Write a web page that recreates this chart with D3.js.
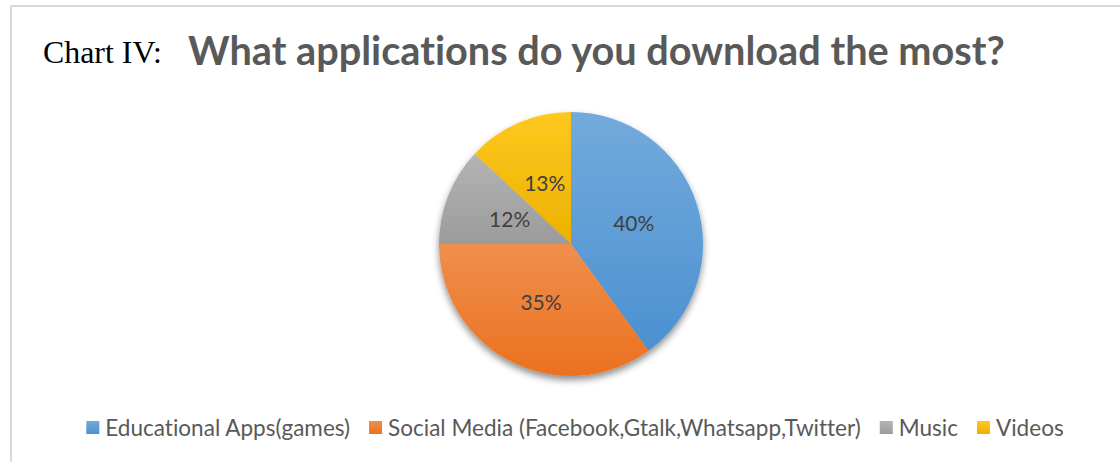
<!DOCTYPE html>
<html>
<head>
<meta charset="utf-8">
<script src="https://cdn.jsdelivr.net/npm/d3@7"></script>
<style>
  html, body { margin: 0; padding: 0; background: #fff; }
  svg { display: block; }
  text { font-variant-ligatures: none; font-feature-settings: "liga" 0; }
</style>
</head>
<body>
<svg id="chart" width="1120" height="462"></svg>
<script>
// Survey answers: which applications are downloaded the most
const categories = ["Educational Apps(games)", "Social Media (Facebook,Gtalk,Whatsapp,Twitter)", "Music", "Videos"];
const shares = [40, 35, 12, 13];
const sliceColors = ["#5b9bd5", "#ed7d31", "#a5a5a5", "#ffc000"];
const chartLabel = "Chart IV:";
const chartTitle = "What applications do you download the most?";

const W = 1120, H = 462;
const svg = d3.select("#chart");
const defs = svg.append("defs");

// Soft shadow under the pie
const shadow = defs.append("filter").attr("id", "pieShadow")
  .attr("x", "-20%").attr("y", "-20%").attr("width", "140%").attr("height", "140%");
shadow.append("feDropShadow").attr("dx", 0).attr("dy", 4).attr("stdDeviation", 3.5)
  .attr("flood-color", "#000").attr("flood-opacity", 0.45);

// Vertical gradient per slice: lighter at top, deeper at bottom (saturation kept)
function shade(c, dl) {
  const h = d3.hsl(c);
  h.l = Math.max(0, Math.min(1, h.l + dl));
  return h.formatHex();
}
sliceColors.forEach((c, i) => {
  const g = defs.append("linearGradient").attr("id", "grad" + i)
    .attr("x1", 0).attr("y1", 0).attr("x2", 0).attr("y2", 1);
  g.append("stop").attr("offset", "0%").attr("stop-color", shade(c, 0.06));
  g.append("stop").attr("offset", "100%").attr("stop-color", shade(c, -0.04));
});

// Frame (top and left edges)
svg.append("line").attr("x1", 10).attr("x2", W).attr("y1", 6).attr("y2", 6)
  .attr("stroke", "#d9d9d9").attr("stroke-width", 2);
svg.append("line").attr("x1", 11).attr("x2", 11).attr("y1", 5).attr("y2", H)
  .attr("stroke", "#d9d9d9").attr("stroke-width", 2);

// Fit a text element's font size so that it spans the given width
function fitWidth(sel, size, target) {
  const w = sel.node().getComputedTextLength();
  sel.attr("font-size", size * target / w);
}

// Title
const label = svg.append("text").attr("x", 43).attr("y", 63)
  .attr("font-family", "'Liberation Serif', 'Times New Roman', serif")
  .attr("font-size", 30).attr("fill", "#000").text(chartLabel);
fitWidth(label, 30, 119);

const title = svg.append("text").attr("x", 188).attr("y", 65)
  .attr("font-family", "Lato, 'Open Sans', sans-serif")
  .attr("font-weight", "bold").attr("font-size", 33).attr("fill", "#595959")
  .text(chartTitle);
fitWidth(title, 33, 817);

// Pie
const cx = 571, cy = 244, r = 132;
const pie = d3.pie().sort(null).value(d => d)(shares);
const arc = d3.arc().innerRadius(0).outerRadius(r);

const g = svg.append("g").attr("transform", `translate(${cx},${cy})`);
g.append("g").attr("filter", "url(#pieShadow)")
  .selectAll("path").data(pie).join("path")
  .attr("d", arc)
  .attr("fill", (d, i) => `url(#grad${i})`);

g.selectAll("text.lbl").data(pie).join("text")
  .attr("class", "lbl")
  .attr("transform", d => `translate(${arc.centroid(d)})`)
  .attr("text-anchor", "middle").attr("dy", "0.36em")
  .attr("font-family", "Lato, 'Open Sans', sans-serif")
  .attr("font-size", 21).attr("fill", "#404040")
  .text(d => d.data + "%");

// Legend, centred under the pie
const legendY = 428, box = 13, gapText = 6, gapItem = 19;
const leg = svg.append("g");
const items = leg.selectAll("g").data(categories).join("g");
items.append("rect").attr("width", box).attr("height", box).attr("y", legendY - 7)
  .attr("fill", (d, i) => `url(#grad${i})`);
items.append("text").attr("x", box + gapText).attr("y", legendY).attr("dy", "0.36em")
  .attr("font-family", "Lato, 'Open Sans', sans-serif")
  .attr("fill", "#595959")
  .text(d => d);

function layoutLegend(size) {
  items.select("text").attr("font-size", size);
  let x = 0;
  items.each(function () {
    const t = d3.select(this).select("text").node().getComputedTextLength();
    d3.select(this).attr("transform", `translate(${x},0)`);
    x += box + gapText + t + gapItem;
  });
  return x - gapItem;
}
const fixedPart = categories.length * (box + gapText) + (categories.length - 1) * gapItem;
let total = layoutLegend(20);
const fontSize = 20 * (978 - fixedPart) / (total - fixedPart);
total = layoutLegend(fontSize);
leg.attr("transform", `translate(${(86 + 1064) / 2 - total / 2},0)`);
</script>
</body>
</html>
